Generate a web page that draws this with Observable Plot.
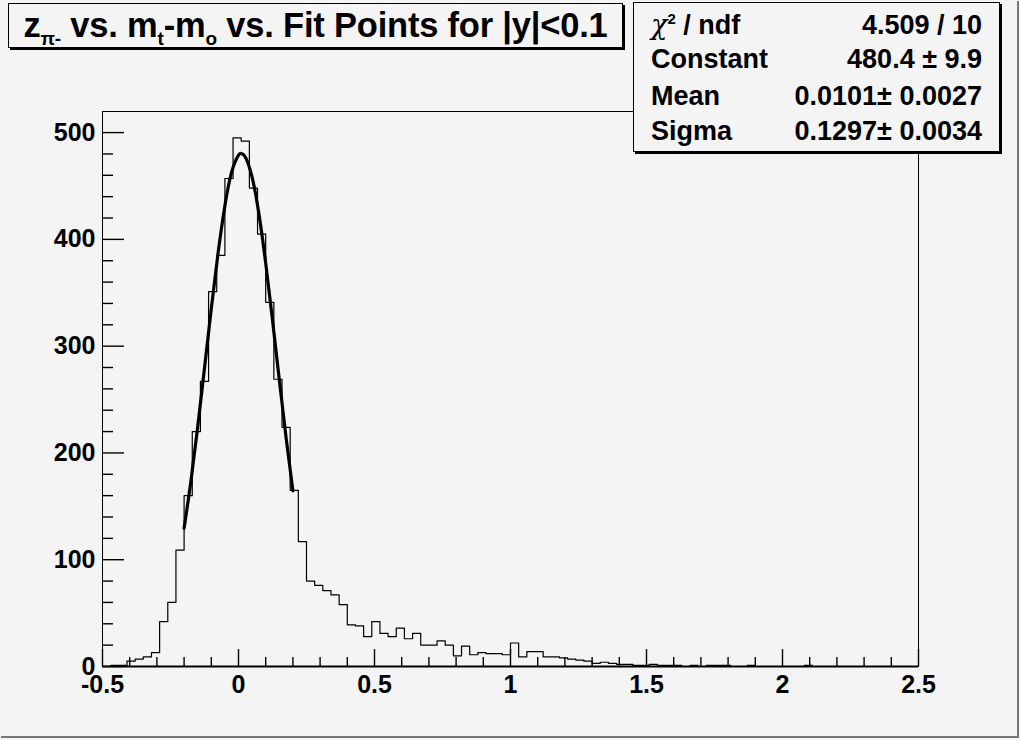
<!DOCTYPE html>
<html>
<head>
<meta charset="utf-8">
<script src="https://cdn.jsdelivr.net/npm/d3@7"></script>
<script src="https://cdn.jsdelivr.net/npm/@observablehq/plot@0.6"></script>
<style>
  html, body { margin: 0; padding: 0; background: #f4f4f4; }
  #wrap { position: relative; width: 1020px; height: 740px; background: #f4f4f4; overflow: hidden;
          font-family: "Liberation Sans", Arial, sans-serif; font-weight: bold; color: #000; }
  #chart { position: absolute; left: 0; top: 0; }
  #edge { position: absolute; left: 1px; top: 1px; width: 1016px; height: 735px;
          border-right: 2px solid #777; border-bottom: 2px solid #777; pointer-events: none; }
  .pave { position: absolute; background: #f4f4f4; border: 1px solid #000;
          box-shadow: 2px 2px 0 #000; box-sizing: border-box; }
  #title { left: 8px; top: 3px; width: 615px; height: 45px; font-size: 34.5px;
           line-height: 43px; text-align: center; white-space: nowrap; letter-spacing: -0.2px; }
  #title sub { font-size: 19px; vertical-align: -8px; line-height: 0; }
  #stats { left: 633px; top: 2px; width: 367px; height: 150px; font-size: 27px; }
  .row { position: absolute; left: 17px; right: 17px; height: 30px; line-height: 30px; }
  .row .l { position: absolute; left: 0; }
  .row .r { position: absolute; right: 0; }
  .chi { font-family: "DejaVu Serif", serif; font-style: italic; font-weight: normal; }
  sup { font-size: 15px; vertical-align: 10px; line-height: 0; }
</style>
</head>
<body>
<div id="wrap">
  <div id="chart"></div>
  <div id="title" class="pave"></div>
  <div id="stats" class="pave"></div>
  <div id="edge"></div>
</div>
<script>
// ---- data ----
const binLow = -0.5;
const binWidth = 0.03;
const counts = [
  0, 1, 1, 5, 7, 9, 13, 42, 60, 109,
  160, 220, 267, 351, 385, 457, 495, 492, 448, 405,
  341, 269, 224, 165, 117, 80, 76, 71, 67, 58,
  39, 38, 28, 42, 31, 28, 36, 26, 31, 20,
  20, 24, 20, 10, 19, 11, 13, 12, 12, 11,
  22, 9, 14, 14, 9, 9, 8, 7, 6, 5,
  3, 4, 3, 2, 2, 1, 1, 2, 1, 1,
  1, 0, 1, 0, 1, 1, 1, 0, 0, 1,
  0, 0, 0, 0, 0, 0, 1, 0, 0, 0,
  0, 0, 0, 0, 0, 0, 0, 0, 0, 0
];
// Gaussian fit curve, sampled over the fit range
const fitX = [-0.2, -0.175, -0.15, -0.125, -0.1, -0.075, -0.05, -0.025, 0, 0.01, 0.025, 0.05, 0.075, 0.1, 0.125, 0.15, 0.175, 0.2];
const fitY = [129.4, 173.5, 224.3, 279.3, 335.1, 387.4, 431.5, 463.2, 478.9, 480.4, 477.2, 458.2, 423.9, 377.8, 324.5, 268.5, 214.1, 164.5];
const xMajorTicks = [-0.5, 0, 0.5, 1, 1.5, 2, 2.5];
const xMinorTicks = [-0.4, -0.3, -0.2, -0.1, 0.1, 0.2, 0.3, 0.4, 0.6, 0.7, 0.8, 0.9, 1.1, 1.2, 1.3, 1.4, 1.6, 1.7, 1.8, 1.9, 2.1, 2.2, 2.3, 2.4];
const yMajorTicks = [0, 100, 200, 300, 400, 500];
const yMinorTicks = [20, 40, 60, 80, 120, 140, 160, 180, 220, 240, 260, 280, 320, 340, 360, 380, 420, 440, 460, 480];
const xDomain = [-0.5, 2.5];
const yDomain = [0, 519.75];
const titleHTML = "z<sub>&pi;-</sub> vs. m<sub>t</sub>-m<sub>o</sub> vs. Fit Points for |y|&lt;0.1";
const statLabels = ['<span class="chi">&chi;</span><sup>2</sup> / ndf', "Constant", "Mean", "Sigma"];
const statValues = ["4.509 / 10", "480.4 &plusmn; 9.9", "0.0101&plusmn; 0.0027", "0.1297&plusmn; 0.0034"];

// ---- tables built from the arrays ----
const hist = counts.map((c, i) => ({x: binLow + i * binWidth, y: c}));
hist.push({x: binLow + counts.length * binWidth, y: counts[counts.length - 1]});
const fit = fitX.map((x, i) => ({x, y: fitY[i]}));
const y0 = yDomain[0];

const font = "'Liberation Sans', Arial, sans-serif";
const chart = Plot.plot({
  width: 1020,
  height: 740,
  marginLeft: 102,
  marginRight: 102,
  marginTop: 111,
  marginBottom: 74,
  x: {domain: xDomain},
  y: {domain: yDomain},
  style: {background: "transparent", color: "black", fontFamily: font},
  marks: [
    Plot.frame({stroke: "black", strokeWidth: 1}),
    Plot.line(hist, {x: "x", y: "y", curve: "step-after", stroke: "black", strokeWidth: 1.2}),
    Plot.line(fit, {x: "x", y: "y", curve: "natural", stroke: "black", strokeWidth: 3.2}),
    Plot.axisX(xMajorTicks, {tickSize: 0, tickPadding: 9, label: null, fontSize: 25, fontWeight: "bold",
      tickFormat: d => String(d)}),
    Plot.axisY(yMajorTicks, {tickSize: 0, tickPadding: 7, label: null, fontSize: 25, fontWeight: "bold",
      tickFormat: d => String(d)}),
    Plot.ruleY([y0], {stroke: "black", strokeWidth: 2}),
    // inward ticks (negative size points them into the frame)
    Plot.axisX(xMajorTicks, {tickSize: -17, label: null, text: null, stroke: "black", strokeWidth: 1.4}),
    Plot.axisX(xMinorTicks, {tickSize: -9, label: null, text: null, stroke: "black", strokeWidth: 1.4}),
    Plot.axisY(yMajorTicks, {tickSize: -22, label: null, text: null, stroke: "black", strokeWidth: 1.4}),
    Plot.axisY(yMinorTicks, {tickSize: -11, label: null, text: null, stroke: "black", strokeWidth: 1.4})
  ]
});
document.getElementById("chart").appendChild(chart);

document.getElementById("title").innerHTML = titleHTML;
const stats = document.getElementById("stats");
const rowTops = [7, 41, 78, 113];
statLabels.forEach((lab, i) => {
  const row = document.createElement("div");
  row.className = "row";
  row.style.top = rowTops[i] + "px";
  row.innerHTML = `<span class="l">${lab}</span><span class="r">${statValues[i]}</span>`;
  stats.appendChild(row);
});
</script>
</body>
</html>
